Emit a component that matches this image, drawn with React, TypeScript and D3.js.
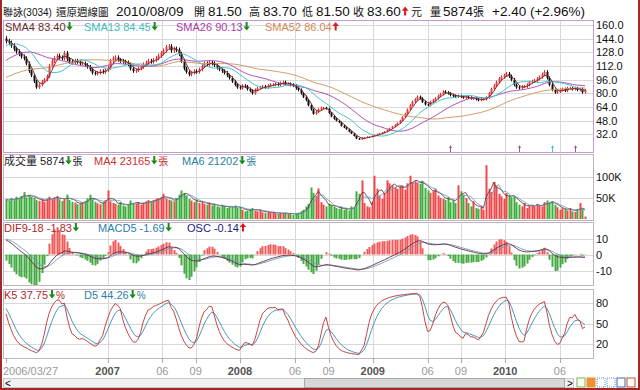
import React, { useRef, useEffect } from 'react';
import * as d3 from 'd3';

const firstWeek = '2006-03-27';

// weeks before the window, estimated from where the long averages start
const priorCloses = [
  72, 70, 68, 71, 74, 73, 76, 75, 72, 74, 77, 79, 78, 80, 82, 81, 79, 83, 85, 84, 82, 86, 88, 87, 85, 86,
  88, 91, 94, 92, 96, 99, 101, 104, 102, 106, 109, 112, 118,
  122, 127, 131, 129, 134, 138, 136, 140, 143, 139, 142, 144,
];

const closes = [
  141, 139, 136, 132, 129, 126, 123, 121, 115, 106,
  101, 94, 87, 90, 94, 96, 100, 112, 118, 121,
  124, 122, 121, 127, 120, 117, 116, 118, 117, 115,
  115, 113, 111, 108, 104, 103, 104, 106, 105, 107,
  110, 118, 121, 122, 119, 118, 117, 116, 114, 109,
  106, 107, 109, 111, 114, 116, 118, 117, 119, 121,
  124, 127, 130, 134, 135, 130, 132, 131, 126, 118,
  109, 105, 102, 104, 106, 105, 108, 112, 115, 114,
  116, 115, 113, 110, 108, 106, 104, 101, 98, 94,
  90, 87, 86, 89, 88, 85, 83, 80, 84, 86,
  87, 88, 87, 89, 90, 90, 91, 90, 92, 93,
  91, 91, 90, 89, 86, 84, 80, 76, 72, 66,
  61, 56, 58, 61, 63, 63, 62, 57, 53, 50,
  48, 46, 42, 40, 38, 35, 33, 30, 27, 26,
  28, 28, 29, 29, 30, 31, 32, 33, 34, 35,
  37, 39, 41, 43, 45, 48, 52, 56, 61, 66,
  70, 73, 76, 74, 70, 67, 66, 70, 72, 74,
  77, 79, 82, 81, 80, 78, 77, 76, 77, 76,
  75, 76, 75, 74, 74, 73, 72, 73, 73, 75,
  80, 85, 89, 93, 97, 99, 101, 103, 100, 96,
  90, 87, 86, 88, 88, 90, 93, 94, 95, 97,
  99, 102, 105, 98, 90, 84, 81, 82, 84, 85,
  83, 86, 86, 85, 86, 84, 85, 81.2, 83.6,
];

// thousands of lots
const volumes = [
  47, 43, 50, 45, 53, 49, 55, 64, 51, 57,
  53, 50, 45, 43, 47, 41, 49, 53, 45, 51,
  55, 47, 43, 49, 58, 45, 41, 39, 35, 37,
  40, 43, 49, 58, 47, 41, 37, 35, 39, 45,
  68, 42, 38, 36, 34, 40, 32, 30, 35, 44,
  38, 36, 40, 34, 38, 42, 45, 40, 44, 48,
  50, 52, 60, 48, 46, 44, 42, 50, 58, 68,
  62, 55, 48, 44, 40, 46, 38, 42, 36, 34,
  38, 32, 35, 30, 28, 34, 30, 26, 30, 28,
  32, 26, 28, 22, 18, 20, 24, 26, 20, 18,
  22, 16, 15, 18, 14, 16, 15, 12, 14, 13,
  15, 12, 14, 10, 12, 15, 18, 22, 30, 36,
  75, 62, 55, 73, 40, 34, 30, 36, 32, 30,
  26, 24, 28, 22, 25, 20, 30, 28, 66, 60,
  92, 38, 30, 28, 40, 103, 72, 55, 48, 62,
  92, 85, 80, 76, 72, 78, 80, 70, 85, 103,
  88, 90, 86, 84, 90, 74, 68, 62, 66, 72,
  56, 50, 48, 45, 52, 40, 44, 38, 80, 66,
  58, 50, 38, 30, 42, 26, 24, 30, 22, 128,
  72, 64, 88, 80, 60, 54, 48, 62, 56, 52,
  55, 40, 34, 30, 38, 26, 32, 34, 30, 36,
  32, 30, 40, 44, 38, 42, 34, 28, 22, 26,
  24, 20, 26, 18, 17, 24, 38, 24, 5.874,
];

const priceTicks = [160, 144, 128, 112, 96, 80, 64, 48, 32];
const volumeTicks = [100, 50];
const macdTicks = [10, 0, -10];
const kdTicks = [80, 50, 20];

const timeTicks = [
  { date: '2006-03-27', label: '2006/03/27', kind: 'start' },
  { date: '2007-01-01', label: '2007', kind: 'year' },
  { date: '2007-06-01', label: '06', kind: 'month' },
  { date: '2007-09-01', label: '09', kind: 'month' },
  { date: '2008-01-01', label: '2008', kind: 'year' },
  { date: '2008-06-01', label: '06', kind: 'month' },
  { date: '2008-09-01', label: '09', kind: 'month' },
  { date: '2009-01-01', label: '2009', kind: 'year' },
  { date: '2009-06-01', label: '06', kind: 'month' },
  { date: '2009-09-01', label: '09', kind: 'month' },
  { date: '2010-01-01', label: '2010', kind: 'year' },
  { date: '2010-06-01', label: '06', kind: 'month' },
];

const eventMarks = [
  { date: '2009-08-03', color: '#9c5a8c' },
  { date: '2010-02-08', color: '#9c5a8c' },
  { date: '2010-05-10', color: '#4cc4d0' },
  { date: '2010-07-12', color: '#9c5a8c' },
];

const smaLegend = [
  { label: 'SMA4 83.40', dir: 'down', unit: '', color: '#6a2a2a', x: 5 },
  { label: 'SMA13 84.45', dir: 'down', unit: '', color: '#3cbcbc', x: 84 },
  { label: 'SMA26 90.13', dir: 'down', unit: '', color: '#a83ca8', x: 176 },
  { label: 'SMA52 86.04', dir: 'up', unit: '', color: '#cf8a52', x: 265 },
];
const volLegend = [
  { label: '成交量 5874', dir: 'down', unit: '張', color: '#222', x: 4 },
  { label: 'MA4 23165', dir: 'down', unit: '張', color: '#d03030', x: 94 },
  { label: 'MA6 21202', dir: 'down', unit: '張', color: '#2a7fa8', x: 182 },
];
const macdLegend = [
  { label: 'DIF9-18 -1.83', dir: 'down', unit: '', color: '#b02828', x: 4 },
  { label: 'MACD5 -1.69', dir: 'down', unit: '', color: '#2a7fa8', x: 98 },
  { label: 'OSC -0.14', dir: 'up', unit: '', color: '#1a1a80', x: 187 },
];
const kdLegend = [
  { label: 'K5 37.75', dir: 'down', unit: '%', color: '#b02828', x: 4 },
  { label: 'D5 44.26', dir: 'down', unit: '%', color: '#2a7fa8', x: 84 },
];

// title pieces
const header = [
  { text: '聯詠(3034)', x: 3, size: 10 },
  { text: '還原週線圖', x: 56, size: 10.5 },
  { text: '2010/08/09', x: 116, size: 13.5 },
  { text: '開', x: 194, size: 11 },
  { text: '81.50', x: 208, size: 13.5 },
  { text: '高', x: 249, size: 11 },
  { text: '83.70', x: 263, size: 13.5 },
  { text: '低', x: 302, size: 11 },
  { text: '81.50', x: 316, size: 13.5 },
  { text: '收', x: 353, size: 11 },
  { text: '83.60', x: 367, size: 13.5 },
  { text: '元', x: 411, size: 11 },
  { text: '量', x: 430, size: 11 },
  { text: '5874', x: 443, size: 13.5 },
  { text: '張', x: 473, size: 11 },
  { text: '+2.40 (+2.96%)', x: 492, size: 13.5 },
];

const FONT = "'Liberation Sans', Arial, 'Noto Sans CJK TC', sans-serif";

export default function App() {
  const svgRef = useRef<SVGSVGElement>(null);

  useEffect(() => {
    if (!svgRef.current) return;
    const svg = d3.select(svgRef.current);
    svg.selectAll('*').remove();

    const left = 3;
    const right = 594;
    const P = { top: 20, bottom: 152 };
    const V = { top: 154, bottom: 220 };
    const M = { top: 222, bottom: 285 };
    const K = { top: 289, bottom: 358 };

    const parse = d3.timeParse('%Y-%m-%d');
    const t0 = parse(firstWeek)!;
    const dates = closes.map((_, i) => d3.timeDay.offset(t0, i * 7));
    const x = d3.scaleTime().domain([dates[0], dates[dates.length - 1]]).range([6, 585]);

    const yP = d3.scaleLinear().domain([32, 160]).range([134.3, 25]);
    const yV = d3.scaleLinear().domain([0, 100]).range([219, 177]);
    const yM = d3.scaleLinear().domain([-10, 10]).range([270.5, 238.5]);
    const yK = d3.scaleLinear().domain([20, 80]).range([344, 303]);
    const oscScale = 6; // histogram is drawn magnified against the DIF/MACD axis

    // indicators
    const full = [...priorCloses, ...closes];
    const off = priorCloses.length;
    const fOpen = full.map((c, i) => (i === 0 ? c : full[i - 1]));
    const fHigh = full.map((c, i) => Math.max(c, fOpen[i]) * 1.02);
    const fLow = full.map((c, i) => Math.min(c, fOpen[i]) * 0.98);
    const sma = (arr: number[], n: number) =>
      arr.map((_, i) => d3.mean(arr.slice(Math.max(0, i - n + 1), i + 1)) as number);
    const ema = (arr: number[], n: number) => {
      const a = 2 / (n + 1);
      let e = arr[0];
      return arr.map((v, i) => (e = i === 0 ? v : e + a * (v - e)));
    };
    const e9 = ema(full, 9);
    const e18 = ema(full, 18);
    const difF = full.map((_, i) => e9[i] - e18[i]);
    const macdF = ema(difF, 5);
    let kv = 50, dv = 50;
    const kF: number[] = [], dF: number[] = [];
    full.forEach((c, i) => {
      const lo = d3.min(fLow.slice(Math.max(0, i - 4), i + 1)) as number;
      const hi = d3.max(fHigh.slice(Math.max(0, i - 4), i + 1)) as number;
      const rsv = hi === lo ? 50 : ((c - lo) / (hi - lo)) * 100;
      kv = (kv * 2) / 3 + rsv / 3;
      dv = (dv * 2) / 3 + kv / 3;
      kF.push(kv);
      dF.push(dv);
    });
    const cut = (a: number[]) => a.slice(off);
    const opens = cut(fOpen), highs = cut(fHigh), lows = cut(fLow);
    const smaLines = [
      { v: cut(sma(full, 52)), color: '#d49a66' },
      { v: cut(sma(full, 26)), color: '#b050b8' },
      { v: cut(sma(full, 13)), color: '#44c4c8' },
      { v: cut(sma(full, 4)), color: '#7a3030' },
    ];
    const dif = cut(difF), macd = cut(macdF);
    const osc = dif.map((d, i) => d - macd[i]);
    const kLine = cut(kF), dLine = cut(dF);
    const vMa4 = sma(volumes, 4), vMa6 = sma(volumes, 6);
    const up = closes.map((c, i) => c >= opens[i]);
    const px = (i: number) => Math.round(x(dates[i]));

    // frame
    svg.append('rect').attr('width', 640).attr('height', 390).attr('fill', '#fff');
    const defs = svg.append('defs');
    [['cp', P], ['cv', V], ['cm', M], ['ck', K]].forEach(([id, p]: any) => {
      defs.append('clipPath').attr('id', id)
        .append('rect').attr('x', left).attr('y', p.top).attr('width', right - left).attr('height', p.bottom - p.top);
    });

    const panels = [P, V, M, K];
    const hgrid = (ticks: number[], y: d3.ScaleLinear<number, number>) =>
      svg.append('g').selectAll('line').data(ticks).join('line')
        .attr('x1', left).attr('x2', right)
        .attr('y1', d => Math.round(y(d)) + 0.5).attr('y2', d => Math.round(y(d)) + 0.5)
        .attr('stroke', '#d8d8d8');
    hgrid(priceTicks, yP);
    hgrid(volumeTicks, yV);
    hgrid(macdTicks, yM);
    hgrid(kdTicks, yK);

    const tickDates = timeTicks.map(t => ({ ...t, d: parse(t.date)! }));
    panels.forEach(p => {
      svg.append('g').selectAll('line').data(tickDates.filter(t => t.kind !== 'start')).join('line')
        .attr('x1', t => Math.round(x(t.d)) + 0.5).attr('x2', t => Math.round(x(t.d)) + 0.5)
        .attr('y1', p.top).attr('y2', p.bottom)
        .attr('stroke', '#d8d8d8');
    });

    // price candles
    const gp = svg.append('g').attr('clip-path', 'url(#cp)');
    gp.selectAll('line.wick').data(closes).join('line')
      .attr('x1', (_, i) => px(i) + 0.5).attr('x2', (_, i) => px(i) + 0.5)
      .attr('y1', (_, i) => yP(highs[i])).attr('y2', (_, i) => yP(lows[i]))
      .attr('stroke', (_, i) => (up[i] ? '#e02828' : '#111'));
    gp.selectAll('rect.body').data(closes).join('rect')
      .attr('x', (_, i) => px(i) - 0.5).attr('width', 2)
      .attr('y', (c, i) => yP(Math.max(c, opens[i])))
      .attr('height', (c, i) => Math.max(1, Math.abs(yP(c) - yP(opens[i]))))
      .attr('fill', (_, i) => (up[i] ? '#f03c3c' : '#111'));
    smaLines.forEach(s => {
      gp.append('path').datum(s.v)
        .attr('d', d3.line<number>().x((_, i) => x(dates[i])).y(d => yP(d)))
        .attr('fill', 'none').attr('stroke', s.color).attr('stroke-width', 1);
    });
    const em = svg.append('g').selectAll('g').data(eventMarks).join('g');
    em.append('line')
      .attr('x1', d => Math.round(x(parse(d.date)!)) + 0.5).attr('x2', d => Math.round(x(parse(d.date)!)) + 0.5)
      .attr('y1', P.bottom - 6).attr('y2', P.bottom).attr('stroke', d => d.color);
    em.append('path')
      .attr('d', d => { const cx = Math.round(x(parse(d.date)!)) + 0.5; return `M${cx - 1.5},${P.bottom - 4}L${cx},${P.bottom - 7}L${cx + 1.5},${P.bottom - 4}Z`; })
      .attr('fill', d => d.color);

    // volume
    const gv = svg.append('g').attr('clip-path', 'url(#cv)');
    gv.selectAll('rect').data(volumes).join('rect')
      .attr('x', (_, i) => px(i) - 0.5).attr('width', 2)
      .attr('y', d => yV(d)).attr('height', d => yV(0) - yV(d))
      .attr('fill', (_, i) => (up[i] ? '#f04848' : '#3fae3f'));
    [{ v: vMa4, c: '#6a2a2a' }, { v: vMa6, c: '#5a9ac0' }].forEach(s => {
      gv.append('path').datum(s.v)
        .attr('d', d3.line<number>().x((_, i) => x(dates[i])).y(d => yV(d)))
        .attr('fill', 'none').attr('stroke', s.c).attr('stroke-width', 0.8);
    });

    // MACD
    const gm = svg.append('g').attr('clip-path', 'url(#cm)');
    gm.selectAll('rect').data(osc).join('rect')
      .attr('x', (_, i) => px(i) - 0.5).attr('width', 2)
      .attr('y', d => Math.min(yM(0), yM(d * oscScale)))
      .attr('height', d => Math.abs(yM(d * oscScale) - yM(0)))
      .attr('fill', d => (d >= 0 ? '#f25a5a' : '#44aa44'));
    [{ v: macd, c: '#6a9ac0' }, { v: dif, c: '#6a2a3a' }].forEach(s => {
      gm.append('path').datum(s.v)
        .attr('d', d3.line<number>().x((_, i) => x(dates[i])).y(d => yM(d)))
        .attr('fill', 'none').attr('stroke', s.c).attr('stroke-width', 0.9);
    });

    // KD
    const gk = svg.append('g').attr('clip-path', 'url(#ck)');
    [{ v: dLine, c: '#3a8ab0' }, { v: kLine, c: '#c03030' }].forEach(s => {
      gk.append('path').datum(s.v)
        .attr('d', d3.line<number>().x((_, i) => x(dates[i])).y(d => yK(d)))
        .attr('fill', 'none').attr('stroke', s.c).attr('stroke-width', 0.9);
    });

    // panel borders
    panels.forEach((p, i) => {
      svg.append('rect').attr('x', left + 0.5).attr('y', p.top + 0.5)
        .attr('width', right - left - 1).attr('height', p.bottom - p.top)
        .attr('fill', 'none').attr('stroke', i === 0 ? '#c99ad2' : '#c0b4c4');
    });

    // right labels
    const rlab = (ticks: number[], y: d3.ScaleLinear<number, number>, fmt: (d: number) => string) =>
      svg.append('g').selectAll('text').data(ticks).join('text')
        .attr('x', 596).attr('y', d => y(d) + 4)
        .style('font-family', FONT).style('font-size', '11px').style('fill', '#111')
        .text(fmt);
    rlab(priceTicks, yP, d => d.toFixed(1));
    rlab(volumeTicks, yV, d => `${d}K`);
    rlab(macdTicks, yM, d => `${d}`);
    rlab(kdTicks, yK, d => `${d}`);

    // arrows: solid shaft + head
    const arrow = (g: d3.Selection<any, any, any, any>, ax: number, baseline: number, dir: string, size = 1) => {
      const top = baseline - 9 * size, bot = baseline - 0.5;
      const cx = ax + 3 * size;
      const d = dir === 'up'
        ? `M${cx},${top}L${cx + 3.2 * size},${top + 4 * size}L${cx + 1 * size},${top + 4 * size}L${cx + 1 * size},${bot}L${cx - 1 * size},${bot}L${cx - 1 * size},${top + 4 * size}L${cx - 3.2 * size},${top + 4 * size}Z`
        : `M${cx},${bot}L${cx + 3.2 * size},${bot - 4 * size}L${cx + 1 * size},${bot - 4 * size}L${cx + 1 * size},${top}L${cx - 1 * size},${top}L${cx - 1 * size},${bot - 4 * size}L${cx - 3.2 * size},${bot - 4 * size}Z`;
      g.append('path').attr('d', d).attr('fill', dir === 'up' ? '#e01818' : '#1a8a1a');
    };

    const legend = (items: typeof smaLegend, y: number) => {
      const g = svg.append('g');
      items.forEach(it => {
        const t = g.append('text').attr('x', it.x).attr('y', y)
          .style('font-family', FONT).style('font-size', '11px').style('fill', it.color)
          .text(it.label);
        const w = (t.node() as SVGTextElement).getComputedTextLength();
        arrow(g, it.x + w + 1, y, it.dir);
        if (it.unit) {
          g.append('text').attr('x', it.x + w + 8).attr('y', y)
            .style('font-family', FONT).style('font-size', '10px').style('fill', it.color)
            .text(it.unit);
        }
      });
    };
    legend(smaLegend, 31);
    legend(volLegend, 165);
    legend(macdLegend, 232);
    legend(kdLegend, 299);

    // time axis
    svg.append('g').selectAll('line').data(tickDates).join('line')
      .attr('x1', t => Math.round(x(t.d)) + 0.5).attr('x2', t => Math.round(x(t.d)) + 0.5)
      .attr('y1', K.bottom).attr('y2', K.bottom + 5).attr('stroke', '#aaa');
    svg.append('g').selectAll('text').data(tickDates).join('text')
      .attr('x', t => (t.kind === 'start' ? 3 : x(t.d)))
      .attr('y', 375)
      .attr('text-anchor', t => (t.kind === 'start' ? 'start' : 'middle'))
      .style('font-family', FONT).style('font-size', '11px')
      .style('font-weight', t => (t.kind === 'year' ? 'bold' : 'normal'))
      .style('fill', t => (t.kind === 'year' ? '#555' : '#999'))
      .text(t => t.label);

    // header
    const hg = svg.append('g');
    hg.selectAll('text').data(header).join('text')
      .attr('x', d => d.x).attr('y', 16)
      .style('font-family', FONT).style('font-size', d => `${d.size}px`).style('fill', '#111')
      .text(d => d.text);
    arrow(hg, 402, 16, 'up', 1.05);

    // scrollbar
    const sb = svg.append('g');
    sb.append('rect').attr('x', 3.5).attr('y', 378.5).attr('width', 570).attr('height', 9)
      .attr('fill', '#f0f0f0').attr('stroke', '#c8c8c8');
    sb.append('rect').attr('x', 304.5).attr('y', 378.5).attr('width', 260).attr('height', 9)
      .attr('fill', '#d8d8d8').attr('stroke', '#a8a8a8');
    sb.append('text').attr('x', 5).attr('y', 387).style('font-family', FONT).style('font-size', '10px').text('<');
    sb.append('text').attr('x', 567).attr('y', 387).style('font-family', FONT).style('font-size', '10px').text('>');
    const icons = ['#7ab040', '#f09030', '#5a8ad0', '#5a8ad0', '#3a6ab0', '#c05020'];
    sb.selectAll('rect.icon').data(icons).join('rect')
      .attr('x', (_, i) => 577 + i * 10).attr('y', 378).attr('width', 8).attr('height', 9)
      .attr('fill', (c, i) => (i === 1 ? c : 'none')).attr('stroke', c => c)
      .attr('stroke-dasharray', (_, i) => (i === 2 || i === 3 ? '1,1' : null));

    // outer frame
    svg.append('path').attr('d', 'M1,0V389H639V0').attr('fill', 'none').attr('stroke', '#a0282a').attr('stroke-width', 2);
  }, []);

  return (
    <svg ref={svgRef} width={640} height={390} style={{ position: 'absolute', left: 0, top: 0, display: 'block' }} />
  );
}
